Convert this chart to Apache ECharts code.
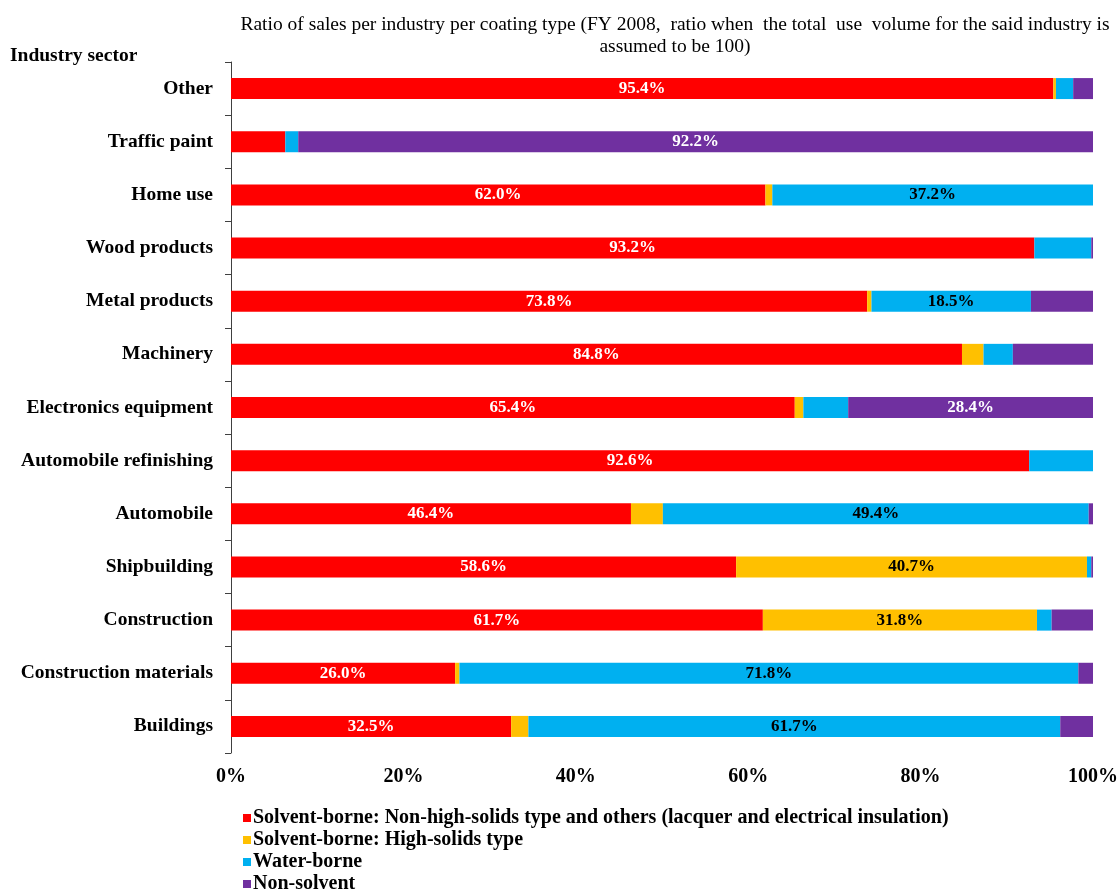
<!DOCTYPE html>
<html lang="en">
<head>
    <meta charset="UTF-8">
    <title>Coating type ratio per industry</title>
    <script type="text/javascript" src="https://cdn.jsdelivr.net/npm/echarts@6/dist/echarts.min.js"></script>
    <style>
        body { margin: 0; background: #fff; }
        #chart-container { width: 1118px; height: 891px; }
    </style>
</head>
<body>
    <div id="chart-container"></div>

    <script>
        // top to bottom, as in the picture
        const industries = ['Other', 'Traffic paint', 'Home use', 'Wood products', 'Metal products', 'Machinery',
            'Electronics equipment', 'Automobile refinishing', 'Automobile', 'Shipbuilding', 'Construction',
            'Construction materials', 'Buildings'];

        const solventNonHigh = [95.4, 6.3, 62.0, 93.2, 73.8, 84.8, 65.4, 92.6, 46.4, 58.6, 61.7, 26.0, 32.5];
        const solventHigh    = [0.3, 0, 0.8, 0, 0.5, 2.5, 1.0, 0, 3.7, 40.7, 31.8, 0.5, 2.0];
        const waterBorne     = [2.0, 1.5, 37.2, 6.6, 18.5, 3.4, 5.2, 7.4, 49.4, 0.5, 1.7, 71.8, 61.7];
        const nonSolvent     = [2.3, 92.2, 0, 0.2, 7.2, 9.3, 28.4, 0, 0.5, 0.2, 4.8, 1.7, 3.8];

        const seriesNames = ['Solvent-borne: Non-high-solids type and others (lacquer and electrical insulation)',
            'Solvent-borne: High-solids type', 'Water-borne', 'Non-solvent'];
        const colors = ['#FF0000', '#FFC000', '#00B0F0', '#7030A0'];
        const labelColors = ['#ffffff', '#000000', '#000000', '#ffffff'];
        const xTicks = [0, 20, 40, 60, 80, 100];

        const serif = '"Liberation Serif", "DejaVu Serif", serif';
        const myChart = echarts.init(document.getElementById('chart-container'));

        function makeSeries(name, data, i) {
            return {
                name: name,
                type: 'bar',
                stack: 'total',
                barWidth: 21,
                data: data,
                itemStyle: { color: colors[i] },
                label: {
                    show: true,
                    position: 'inside',
                    color: labelColors[i],
                    fontFamily: serif,
                    fontWeight: 'bold',
                    fontSize: 17,
                    // only the big segments carry a label
                    formatter: p => (p.value >= 15 ? p.value.toFixed(1) + '%' : '')
                },
                emphasis: { disabled: true }
            };
        }

        const option = {
            animation: false,
            backgroundColor: '#ffffff',
            title: [
                {
                    text: 'Ratio of sales per industry per coating type (FY 2008,  ratio when  the total  use  volume for the said industry is\nassumed to be 100)',
                    left: 670,
                    top: 9,
                    textAlign: 'center',
                    textStyle: { fontFamily: serif, fontWeight: 'normal', fontSize: 19.5, lineHeight: 22, color: '#000' }
                },
                {
                    text: 'Industry sector',
                    left: 5,
                    top: 41,
                    textStyle: { fontFamily: serif, fontWeight: 'bold', fontSize: 19.5, color: '#000' }
                }
            ],
            legend: {
                data: seriesNames,
                orient: 'vertical',
                left: 243,
                top: 808,
                height: 120,
                padding: 0,
                itemWidth: 8,
                itemHeight: 8,
                itemGap: 2,
                icon: 'rect',
                selectedMode: false,
                textStyle: { fontFamily: serif, fontWeight: 'bold', fontSize: 20, color: '#000', padding: [0, 0, 0, -3] }
            },
            grid: { left: 231, right: 25, top: 62, bottom: 138, outerBoundsMode: 'none' },
            xAxis: {
                type: 'value',
                min: xTicks[0],
                max: xTicks[xTicks.length - 1],
                interval: 20,
                axisLine: { show: false },
                axisTick: { show: false },
                splitLine: { show: false },
                axisLabel: {
                    formatter: '{value}%',
                    margin: 14,
                    fontFamily: serif,
                    fontWeight: 'bold',
                    fontSize: 20,
                    color: '#000'
                }
            },
            yAxis: {
                type: 'category',
                inverse: true,
                data: industries,
                axisLine: { show: true, lineStyle: { color: '#404040', width: 1 } },
                axisTick: { show: true, length: 6, lineStyle: { color: '#404040' } },
                axisLabel: {
                    margin: 18,
                    fontFamily: serif,
                    fontWeight: 'bold',
                    fontSize: 19.5,
                    color: '#000'
                }
            },
            series: [
                makeSeries(seriesNames[0], solventNonHigh, 0),
                makeSeries(seriesNames[1], solventHigh, 1),
                makeSeries(seriesNames[2], waterBorne, 2),
                makeSeries(seriesNames[3], nonSolvent, 3)
            ]
        };

        myChart.setOption(option);
    </script>
</body>
</html>
